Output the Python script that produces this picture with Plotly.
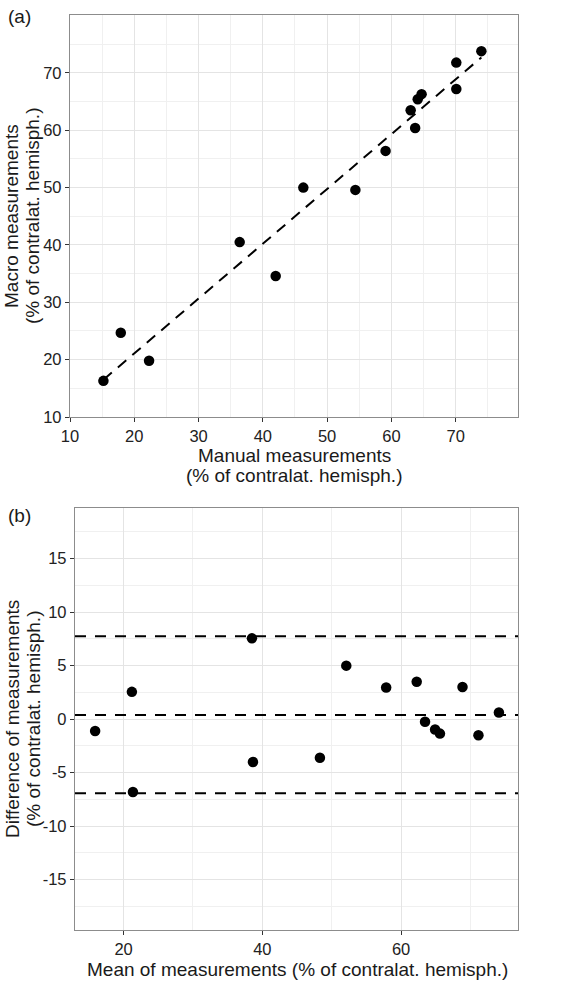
import plotly.graph_objects as go

# ---- data ----
manual = [74.0, 70.1, 70.1, 64.7, 64.1, 63.0, 63.7, 59.1, 46.3, 54.4, 36.4, 42.0, 17.9, 22.3, 15.2]
macro = [73.8, 71.8, 67.2, 66.3, 65.4, 63.5, 60.4, 56.4, 50.0, 49.6, 40.5, 34.6, 24.7, 19.8, 16.3]
fit_x = [15.2, 74.0]
fit_y = [16.5, 72.7]

mean_meas = [15.9, 21.2, 21.35, 38.5, 38.65, 48.3, 52.1, 57.85, 62.25, 63.45, 64.9, 65.6, 68.85, 71.15, 74.1]
diff_meas = [-1.1, 2.55, -6.8, 7.55, -4.0, -3.6, 5.0, 2.95, 3.5, -0.25, -0.97, -1.35, 3.0, -1.5, 0.62]
ba_lines = [7.75, 0.38, -6.92]   # upper LoA, mean difference, lower LoA

top_ticks = [10, 20, 30, 40, 50, 60, 70]
bot_xticks = [20, 40, 60]
bot_yticks = [-15, -10, -5, 0, 5, 10, 15]
bot_yticklabels = ["-15", "-10", "-5", "0", "5", "10", "15"]

W, H = 567, 983
FONT = "Liberation Sans, Arial, sans-serif"
TXT = "#1a1a1a"

def px_x(p):
    return p / W

def px_y(p):
    return 1 - p / H

fig = go.Figure()

# Top panel
fig.add_trace(go.Scatter(x=fit_x, y=fit_y, mode="lines",
                         line=dict(color="black", width=2, dash="11px,8px"),
                         xaxis="x", yaxis="y", showlegend=False, hoverinfo="skip"))
fig.add_trace(go.Scatter(x=manual, y=macro, mode="markers",
                         marker=dict(color="black", size=10.5),
                         xaxis="x", yaxis="y", showlegend=False))

# Bottom panel
for v in ba_lines:
    fig.add_trace(go.Scatter(x=[13.0, 76.85], y=[v, v], mode="lines",
                             line=dict(color="black", width=2, dash="11px,9px"),
                             xaxis="x2", yaxis="y2", showlegend=False, hoverinfo="skip"))
fig.add_trace(go.Scatter(x=mean_meas, y=diff_meas, mode="markers",
                         marker=dict(color="black", size=10.5),
                         xaxis="x2", yaxis="y2", showlegend=False))

axis_common = dict(
    showline=True, linecolor="#8c8c8c", linewidth=1.3, mirror=True,
    ticks="outside", ticklen=4, tickcolor="#333333", tickwidth=1.3,
    showgrid=True, gridcolor="#e4e4e4", gridwidth=1,
    zeroline=False, automargin=False,
    tickfont=dict(family=FONT, size=16.5, color="#222222"),
)
minor_common = dict(showgrid=True, gridcolor="#f0f0f0", gridwidth=0.8, ticks="")

fig.update_layout(
    width=W, height=H,
    margin=dict(l=0, r=0, t=0, b=0),
    paper_bgcolor="white", plot_bgcolor="white",
    font=dict(family=FONT, color=TXT),
    xaxis=dict(domain=[px_x(70), px_x(518)], range=[10, 79.7], anchor="y",
               tickvals=top_ticks, minor=dict(dtick=5, **minor_common), **axis_common),
    yaxis=dict(domain=[px_y(417), px_y(15)], range=[10, 80.1], anchor="x",
               tickvals=top_ticks, minor=dict(dtick=5, **minor_common), **axis_common),
    xaxis2=dict(domain=[px_x(75), px_x(518)], range=[13.0, 76.85], anchor="y2",
                tickvals=bot_xticks, minor=dict(tick0=0, dtick=10, **minor_common), **axis_common),
    yaxis2=dict(domain=[px_y(930), px_y(508.3)], range=[-19.7, 19.7], anchor="x2",
                tickvals=bot_yticks, ticktext=bot_yticklabels,
                minor=dict(tick0=2.5, dtick=5, **minor_common), **axis_common),
)

ann_font = dict(family=FONT, size=19, color=TXT)
annotations = [
    dict(text="(a)", x=px_x(6), y=px_y(16), xanchor="left", yanchor="middle"),
    dict(text="(b)", x=px_x(6), y=px_y(515), xanchor="left", yanchor="middle"),
    dict(text="Manual measurements", x=px_x(294), y=px_y(455), xanchor="center", yanchor="middle"),
    dict(text="(% of contralat. hemisph.)", x=px_x(294), y=px_y(476), xanchor="center", yanchor="middle"),
    dict(text="Macro measurements", x=px_x(12), y=px_y(216), xanchor="center", yanchor="middle",
         textangle=-90),
    dict(text="(% of contralat. hemisph.)", x=px_x(33), y=px_y(216), xanchor="center", yanchor="middle",
         textangle=-90),
    dict(text="Mean of measurements (% of contralat. hemisph.)", x=px_x(297), y=px_y(969),
         xanchor="center", yanchor="middle"),
    dict(text="Difference of measurements", x=px_x(12), y=px_y(719), xanchor="center", yanchor="middle",
         textangle=-90),
    dict(text="(% of contralat. hemisph.)", x=px_x(33), y=px_y(719), xanchor="center", yanchor="middle",
         textangle=-90),
]
for a in annotations:
    a.update(xref="paper", yref="paper", showarrow=False, font=ann_font)
fig.update_layout(annotations=annotations)

fig.write_html("out.html",
               config={"displayModeBar": False},
               post_script="document.body.style.margin='0';document.body.style.padding='0';")
